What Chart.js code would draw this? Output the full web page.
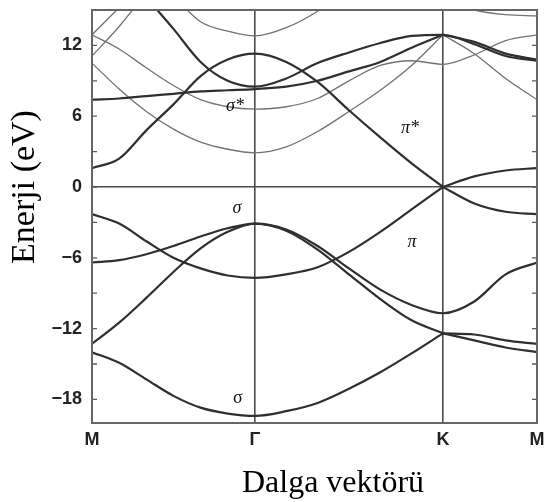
<!DOCTYPE html>
<html>
<head>
<meta charset="utf-8">
<script src="https://cdn.jsdelivr.net/npm/chart.js@4.4.1/dist/chart.umd.min.js"></script>
<style>
  html, body { margin: 0; padding: 0; background: #fff; }
</style>
</head>
<body>
<canvas id="myChart" width="544" height="502"></canvas>
<script>
// k path positions (M - Gamma - K - M), in units of 2pi/a
const kPath = [0, 0.0962, 0.1925, 0.2887, 0.3849, 0.4811, 0.5774,
               0.6885, 0.7997, 0.9108, 1.0219, 1.1329, 1.2440,
               1.3551, 1.4662, 1.5774];
const kTicks = [0, 0.5774, 1.2440, 1.5774];
const kLabels = ['M', 'Γ', 'K', 'M'];
const energyTicks = [-18, -15, -12, -9, -6, -3, 0, 3, 6, 9, 12];

// VALENCE BANDS (eV)
const sigma1 = [-14.0, -14.9, -16.3, -17.7, -18.7, -19.2, -19.4, -19.0, -18.3, -17.1, -15.7, -14.1, -12.4, -13.0, -13.6, -14.0];
const sigma2 = [-13.3, -11.5, -9.4, -7.2, -5.2, -3.8, -3.1, -3.7, -5.3, -7.4, -9.5, -11.3, -12.4, -12.5, -13.0, -13.3];
const sigma3 = [-6.4, -6.2, -5.7, -5.0, -4.2, -3.5, -3.1, -3.6, -5.0, -6.9, -8.7, -10.0, -10.7, -9.7, -7.4, -6.4];
const piBand = [-2.3, -3.1, -4.6, -6.0, -6.9, -7.5, -7.7, -7.4, -6.8, -5.5, -3.8, -1.9, 0, -1.4, -2.1, -2.3];

// CONDUCTION BANDS (eV)
const piStar = [1.6, 2.4, 4.8, 7.0, 9.4, 10.8, 11.3, 10.6, 8.9, 6.5, 4.2, 2.0, 0, 0.9, 1.4, 1.6];
const bandA = [null, 19.0, 16.1, 13.4, 10.6, 9.0, 8.5, 9.2, 10.5, 11.4, 12.2, 12.8, 12.9, 12.1, 11.1, 10.7];
const bandB = [7.4, 7.5, 7.7, 7.9, 8.1, 8.2, 8.3, 8.5, 9.0, 9.8, 10.6, 11.8, 12.9, 12.3, 11.3, 10.8];
const thin1 = [10.5, 8.3, 6.4, 4.9, 3.8, 3.2, 2.9, 3.4, 4.7, 6.4, 8.2, 10.3, 12.9, 11.3, 9.2, 7.4];
const sigmaStar = [12.9, 11.7, 10.1, 8.6, 7.4, 6.8, 6.6, 6.8, 7.5, 9.0, 10.3, 10.7, 10.4, 11.2, 12.4, 12.9];
const thin3 = [null, null, null, 16.2, 14.0, 13.2, 12.8, 13.5, 14.9, 16.8, null, null, null, null, null, null];
const thin4 = [11.1, 13.6, 16.5, null, null, null, null, null, null, null, null, null, null, null, null, null];
const thin5 = [12.9, 15.2, 17.5, null, null, null, null, null, null, null, null, null, null, null, null, null];
const thin6 = [null, null, null, null, null, null, null, null, null, null, null, null, 15.8, 15.0, 14.6, 14.5];

// band names, placed at (k, E)
const bandNames = ['σ*', 'π*', 'σ', 'π', 'σ'];
const bandNameK = [0.507, 1.127, 0.514, 1.134, 0.517];
const bandNameE = [6.8, 5.0, -1.8, -4.7, -17.9];

const datasets = [];
function addBand(values, thick, splitAtK) {
    const ranges = splitAtK ? [[0, 12], [12, 15]] : [[0, 15]];
    for (const [a, b] of ranges) {
        const pts = [];
        for (let i = a; i <= b; i++) pts.push({x: kPath[i], y: values[i]});
        datasets.push({
            data: pts,
            borderColor: thick ? '#2f2f2f' : '#727272',
            borderWidth: thick ? 2.2 : 1.3,
            pointRadius: 0,
            fill: false,
            clip: 0,
            cubicInterpolationMode: 'monotone'
        });
    }
}

addBand(sigma1, true, true);
addBand(sigma2, true, true);
addBand(sigma3, true, false);
addBand(piBand, true, true);
addBand(piStar, true, true);
addBand(bandA, true, false);
addBand(bandB, true, true);
addBand(thin1, false, true);
addBand(sigmaStar, false, false);
addBand(thin3, false, false);
addBand(thin4, false, false);
addBand(thin5, false, false);
addBand(thin6, false, false);

// frame, inner ticks, titles and band names
const decor = {
    id: 'decor',
    afterDraw(chart) {
        const {ctx, chartArea: a, scales} = chart;
        ctx.save();
        ctx.strokeStyle = '#5a5a5a';
        ctx.lineWidth = 1.3;
        for (const v of energyTicks) {
            const y = scales.y.getPixelForValue(v);
            ctx.beginPath();
            ctx.moveTo(a.left, y); ctx.lineTo(a.left + 5, y);
            ctx.moveTo(a.right, y); ctx.lineTo(a.right - 5, y);
            ctx.stroke();
        }
        ctx.lineWidth = 2;
        ctx.strokeStyle = '#666';
        ctx.strokeRect(a.left, a.top, a.right - a.left, a.bottom - a.top);

        ctx.fillStyle = '#111';
        ctx.textAlign = 'center';
        ctx.textBaseline = 'middle';
        for (let i = 0; i < bandNames.length; i++) {
            ctx.font = (i === 4 ? '' : 'italic ') + '18px "Liberation Serif"';
            ctx.fillText(bandNames[i], scales.x.getPixelForValue(bandNameK[i]), scales.y.getPixelForValue(bandNameE[i]));
        }

        ctx.font = '32px "Liberation Serif"';
        ctx.fillStyle = '#000';
        ctx.fillText('Dalga vektörü', 333, 484);
        ctx.translate(25, 187);
        ctx.rotate(-Math.PI / 2);
        ctx.font = '34px "Liberation Serif"';
        ctx.fillText('Enerji (eV)', 0, 0);
        ctx.restore();
    }
};

const ctx = document.getElementById('myChart').getContext('2d');
const myChart = new Chart(ctx, {
    type: 'line',
    data: { datasets: datasets },
    plugins: [decor],
    options: {
        responsive: false,
        animation: false,
        layout: { padding: { top: 10, right: 7, left: 0, bottom: 0 } },
        plugins: { legend: { display: false }, tooltip: { enabled: false } },
        scales: {
            x: {
                type: 'linear',
                min: 0,
                max: 1.5774,
                afterBuildTicks: (s) => { s.ticks = kTicks.map(v => ({value: v})); },
                afterFit: (s) => { s.height = 79; s.paddingLeft = 0; s.paddingRight = 0; },
                ticks: {
                    callback: (v, i) => kLabels[i],
                    font: { family: 'Liberation Sans', size: 18, weight: 'bold' },
                    color: '#222',
                    padding: 6,
                    maxRotation: 0
                },
                grid: {
                    color: (c) => (c.index === 1 || c.index === 2) ? '#4a4a4a' : 'rgba(0,0,0,0)',
                    lineWidth: 1.6,
                    drawTicks: false
                },
                border: { display: false }
            },
            y: {
                min: -20,
                max: 15,
                afterBuildTicks: (s) => { s.ticks = energyTicks.map(v => ({value: v})); },
                afterFit: (s) => { s.width = 92; s.paddingTop = 0; s.paddingBottom = 0; },
                ticks: {
                    callback: (v) => v % 6 === 0 ? (v < 0 ? '\u2212' + Math.abs(v) : String(v)) : '',
                    font: { family: 'Liberation Sans', size: 18, weight: 'bold' },
                    color: '#222',
                    padding: 10
                },
                grid: {
                    color: (c) => c.tick && c.tick.value === 0 ? '#4a4a4a' : 'rgba(0,0,0,0)',
                    lineWidth: 1.6,
                    drawTicks: false
                },
                border: { display: false }
            }
        }
    }
});
</script>
</body>
</html>
